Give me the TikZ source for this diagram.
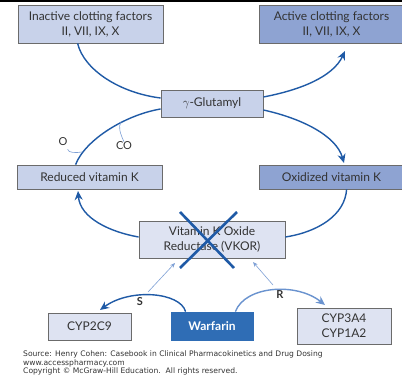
\documentclass[tikz,border=0pt]{standalone}
\usepackage{fontspec}
\setmainfont{Lato}
\newfontfamily\srcfont{DejaVu Sans}
\usetikzlibrary{arrows.meta}
\definecolor{lightbox}{HTML}{C8D2EA}
\definecolor{paleb}{HTML}{DEE3F2}
\definecolor{darkbox}{HTML}{8EA3D2}
\definecolor{bordergray}{HTML}{6B6B6B}
\definecolor{warf}{HTML}{2F6DB5}
\definecolor{arrblue}{HTML}{1F5AA6}
\definecolor{rblue}{HTML}{6A93CF}
\definecolor{thinblue}{HTML}{7EA0D6}
\definecolor{txt}{HTML}{333333}
\tikzset{
  box/.style={draw=bordergray, line width=0.8pt, inner sep=0pt, align=center,
    text=txt, font=\fontsize{12}{15}\selectfont},
  cyc/.style={draw=arrblue, line width=1.4pt},
  tip/.style={-{Stealth[length=9pt,width=8pt]}},
  thinarr/.style={draw=thinblue, line width=0.6pt, -{Stealth[length=5pt,width=4pt]}},
  lbl/.style={text=txt, font=\fontsize{11}{12}\selectfont, inner sep=0pt},
}
\begin{document}
\begin{tikzpicture}[x=1pt,y=-1pt]
\useasboundingbox[fill=white] (0,0) rectangle (402,379);
\fill[black] (0,0) rectangle (402,2);
% boxes
\node[box, fill=lightbox, minimum width=145pt, minimum height=38pt] (inact) at (90.5,24) {Inactive clotting factors\\II, VII, IX, X};
\node[box, fill=darkbox, minimum width=145pt, minimum height=38pt] (act) at (331.5,24) {Active clotting factors\\II, VII, IX, X};
\node[box, fill=lightbox, minimum width=102pt, minimum height=27pt] (glut) at (212,103.5) {$\gamma$-Glutamyl};
\node[box, fill=lightbox, minimum width=145pt, minimum height=24pt] (red) at (89.5,177) {Reduced vitamin K};
\node[box, fill=darkbox, minimum width=145pt, minimum height=24pt] (oxi) at (331.5,177) {Oxidized vitamin K};
\node[box, fill=paleb, minimum width=146pt, minimum height=37pt] (vkor) at (212,239.5) {Vitamin K Oxide\\Reductase (VKOR)};
\node[box, fill=paleb, minimum width=83pt, minimum height=27pt] (cyp2) at (89.5,326.5) {CYP2C9};
\node[box, draw=warf, fill=warf, text=white, font=\fontsize{12}{14}\selectfont\bfseries, minimum width=82pt, minimum height=28pt] (warfn) at (212,326) {Warfarin};
\node[box, fill=paleb, minimum width=94pt, minimum height=36pt] (cyp3) at (344,326) {CYP3A4\\CYP1A2};
% cycle curves
\coordinate (actend) at (345,51);
\coordinate (oxiend) at (344,163);
\coordinate (redend) at (78,191);
\draw[cyc] (inact.south west) ++(60,0) .. controls (84,70) and (120,93) .. (glut.west |- 0,98);
\draw[cyc, tip] (glut.east |- 0,97) .. controls (300,90) and (333,77) .. (actend);
\draw[cyc, tip] (glut.east |- 0,110) .. controls (300,118) and (336,135) .. (oxiend);
\draw[cyc] (oxi.south west) ++(88,0) .. controls (345,215) and (318,232) .. (vkor.east |- 0,237);
\draw[cyc, tip] (vkor.west |- 0,237) .. controls (110,232) and (80,218) .. (redend);
\draw[cyc] (red.north west) ++(59,0) .. controls (85,140) and (125,115) .. (glut.west |- 0,109);
% O and CO
\node[lbl] (o) at (63,142) {O};
\node[lbl] (co) at (124,146) {CO};
\coordinate (ojoin) at (82,152);
\coordinate (cojoin) at (121,122);
\draw[draw=thinblue, line width=0.6pt] (o.south east) ++(0,3) .. controls (68,153) and (76,153) .. (ojoin);
\draw[draw=thinblue, line width=0.6pt] (cojoin) .. controls (118,127) and (120,133) .. (co.north);
% cross
\coordinate (x1) at (180,212);
\coordinate (x2) at (234,268);
\coordinate (x3) at (237,212);
\coordinate (x4) at (180,268);
\draw[draw=arrblue, line width=2.6pt] (x1) -- (x2);
\draw[draw=arrblue, line width=2.6pt] (x3) -- (x4);
% thin arrows to VKOR
\coordinate (ta1) at (148,292);
\coordinate (ta1e) at (175,263);
\coordinate (ta2) at (273,285);
\coordinate (ta2e) at (253,262);
\draw[thinarr] (ta1) -- (ta1e);
\draw[thinarr] (ta2) -- (ta2e);
% S and R arcs
\coordinate (send) at (100,310);
\coordinate (rend) at (325,305);
\draw[draw=arrblue, line width=1.4pt, tip] (warfn.north west) ++(15,0) .. controls (180,292) and (130,288) .. (send);
\draw[draw=rblue, line width=1.4pt, tip] (warfn.north east) ++(-18,0) .. controls (245,286) and (296,282) .. (rend);
\node[lbl, font=\fontsize{11}{12}\selectfont\bfseries] (s) at (140,302) {S};
\node[lbl, font=\fontsize{11}{12}\selectfont\bfseries] (r) at (280,295) {R};
% source
\node[anchor=west, inner sep=0pt, align=left, text=txt, font=\srcfont\fontsize{7.6}{8.6}\selectfont] (src) at (23,363) {Source: Henry Cohen: Casebook in Clinical Pharmacokinetics and Drug Dosing\\www.accesspharmacy.com\\Copyright \textcopyright{} McGraw-Hill Education.\ \ All rights reserved.};
\end{tikzpicture}
\end{document}
